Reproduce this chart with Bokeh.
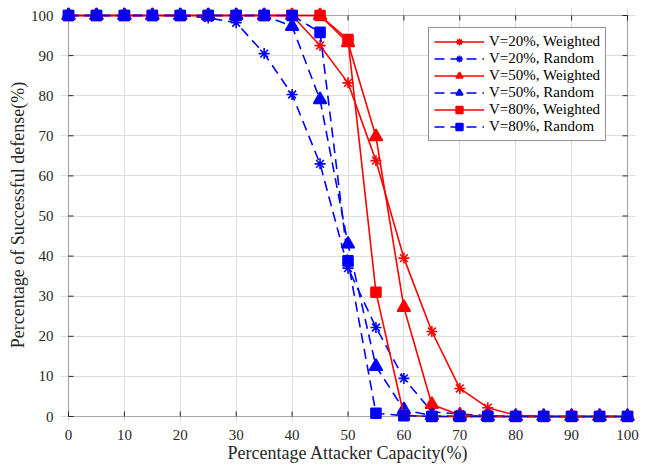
from bokeh.plotting import figure
from bokeh.models import Range1d, BoxAnnotation, Legend, LegendItem, FixedTicker
from bokeh.embed import file_html
from bokeh.resources import INLINE

# ---------------- data ----------------
capacity = [0, 5, 10, 15, 20, 25, 30, 35, 40, 45, 50, 55, 60, 65, 70, 75, 80, 85, 90, 95, 100]
v20_weighted = [100, 100, 100, 100, 100, 100, 100, 100, 100, 92.5, 83.2, 63.8, 39.5, 21.2, 7.0, 2.2, 0.3, 0, 0, 0, 0]
v20_random = [100, 100, 100, 100, 100, 99.4, 98.2, 90.5, 80.3, 63.0, 37.0, 22.2, 9.5, 1.2, 0.6, 0.2, 0, 0, 0, 0, 0]
v50_weighted = [100, 100, 100, 100, 100, 100, 100, 100, 100, 100, 93.2, 69.8, 27.2, 3.0, 0.4, 0, 0, 0, 0, 0, 0]
v50_random = [100, 100, 100, 100, 100, 100, 100, 100, 97.3, 79.0, 43.0, 12.5, 1.7, 0.2, 0, 0, 0, 0, 0, 0, 0]
v80_weighted = [100, 100, 100, 100, 100, 100, 100, 100, 100, 100, 94.0, 31.0, 0.3, 0, 0, 0, 0, 0, 0, 0, 0]
v80_random = [100, 100, 100, 100, 100, 100, 100, 100, 100, 95.8, 38.8, 0.8, 0.2, 0, 0, 0, 0, 0, 0, 0, 0]
labels = ["V=20%, Weighted", "V=20%, Random", "V=50%, Weighted",
          "V=50%, Random", "V=80%, Weighted", "V=80%, Random"]
x_ticks = [0, 10, 20, 30, 40, 50, 60, 70, 80, 90, 100]
y_ticks = [0, 10, 20, 30, 40, 50, 60, 70, 80, 90, 100]

FONT = "Liberation Serif"

# frame geometry (box 0..100 drawn inside a slightly padded frame so markers are not clipped)
PAD_L, PAD_R, PAD_T, PAD_B = 8, 8, 8, 6
box_w, box_h = 559, 401
fw, fh = box_w + PAD_L + PAD_R, box_h + PAD_T + PAD_B
px_x = 100 / box_w
px_y = 100 / box_h
FL, FT = 60, 7

p = figure(width=654, height=466, output_backend="svg", toolbar_location=None,
           x_range=Range1d(-PAD_L * px_x, 100 + PAD_R * px_x),
           y_range=Range1d(-PAD_B * px_y, 100 + PAD_T * px_y),
           min_border_left=FL, min_border_right=654 - FL - fw,
           min_border_top=FT, min_border_bottom=466 - FT - fh)
p.outline_line_color = None
p.background_fill_color = "white"
p.border_fill_color = "white"

for ax, ticks in ((p.xaxis[0], x_ticks), (p.yaxis[0], y_ticks)):
    ax.ticker = FixedTicker(ticks=ticks)
    ax.axis_line_color = None
    ax.major_tick_line_color = None
    ax.minor_tick_line_color = None
    ax.major_label_text_font = FONT
    ax.major_label_text_font_size = "15px"
    ax.major_label_text_color = "#262626"
    ax.axis_label_text_font = FONT
    ax.axis_label_text_font_size = "18px"
    ax.axis_label_text_font_style = "normal"
    ax.axis_label_text_color = "#262626"

p.xaxis.axis_label = "Percentage Attacker Capacity(%)"
p.yaxis.axis_label = "Percentage of Successful defense(%)"
p.xaxis.major_label_standoff = 1
p.yaxis.major_label_standoff = 1
p.xaxis.axis_label_standoff = 0
p.yaxis.axis_label_standoff = 0

p.xgrid.ticker = FixedTicker(ticks=x_ticks)
p.ygrid.ticker = FixedTicker(ticks=y_ticks)
for g in (p.xgrid[0], p.ygrid[0]):
    g.grid_line_color = "#dedede"
    g.grid_line_width = 1
    g.bounds = (0, 100)

# box
p.add_layout(BoxAnnotation(left=0, right=100, bottom=0, top=100,
                           fill_alpha=0, line_color="#262626", line_width=1.2))

# inward tick marks
tx = 5 * px_y
ty = 5 * px_x
n = len(x_ticks)
p.segment(x0=x_ticks, y0=[0] * n, x1=x_ticks, y1=[tx] * n, line_color="#262626", line_width=1)
p.segment(x0=x_ticks, y0=[100] * n, x1=x_ticks, y1=[100 - tx] * n, line_color="#262626", line_width=1)
m = len(y_ticks)
p.segment(x0=[0] * m, y0=y_ticks, x1=[ty] * m, y1=y_ticks, line_color="#262626", line_width=1)
p.segment(x0=[100] * m, y0=y_ticks, x1=[100 - ty] * m, y1=y_ticks, line_color="#262626", line_width=1)

series = [v20_weighted, v20_random, v50_weighted, v50_random, v80_weighted, v80_random]
colors = ["#ff0000", "#0000ff"] * 3
markers = ["asterisk", "asterisk", "triangle", "triangle", "square", "square"]
sizes = [11, 11, 13, 13, 10, 10]
items = []
for i, ys in enumerate(series):
    dash = "solid" if i % 2 == 0 else "10 6"
    r1 = p.line(capacity, ys, line_color=colors[i], line_width=1.6, line_dash=dash)
    r2 = p.scatter(capacity, ys, marker=markers[i], size=sizes[i], line_color=colors[i],
                   fill_color=colors[i], line_width=1.6)
    items.append(LegendItem(label=labels[i], renderers=[r1, r2]))

frame_bottom = FT + fh
legend = Legend(items=items, location=(428 - FL, frame_bottom - 141))
legend.label_text_font = FONT
legend.label_text_font_size = "15px"
legend.label_text_color = "black"
legend.border_line_color = "#262626"
legend.border_line_width = 1
legend.background_fill_color = "white"
legend.background_fill_alpha = 1
legend.padding = 5
legend.spacing = 0
legend.margin = 0
legend.glyph_width = 50
legend.glyph_height = 17
legend.label_height = 17
legend.label_standoff = 5
p.add_layout(legend, "center")

open("out.html", "w").write(file_html(p, INLINE))
